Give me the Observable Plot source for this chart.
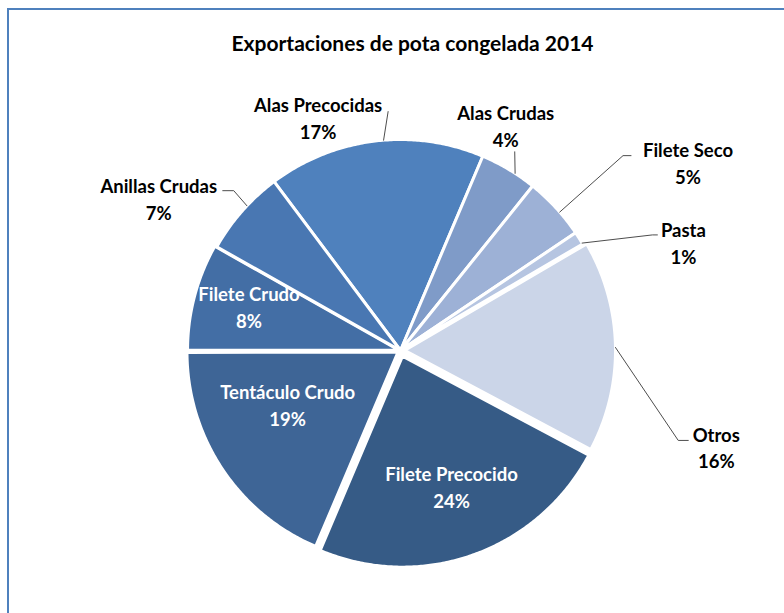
<!DOCTYPE html>
<html><head><meta charset="utf-8">
<script src="https://cdn.jsdelivr.net/npm/d3@7"></script>
<script src="https://cdn.jsdelivr.net/npm/@observablehq/plot@0.6"></script>
<style>
body{margin:0;background:#fff;overflow:hidden;}
#frame{position:absolute;left:7px;top:8px;width:900px;height:800px;border-left:2px solid #4F81BD;border-top:2px solid #4F81BD;}
#chart{position:absolute;left:0;top:0;}
</style></head><body><div id="frame"></div><div id="chart"></div>
<script>
// ---- data ----
const title = "Exportaciones de pota congelada 2014";
const categories = ["Alas Precocidas","Alas Crudas","Filete Seco","Pasta","Otros","Filete Precocido","Tentáculo Crudo","Filete Crudo","Anillas Crudas"];
const values = [16.6, 4.4, 4.8, 1.0, 16.2, 23.6, 18.6, 8.2, 6.6];
const colors = ["#4F81BD","#7F9BC8","#9DB1D6","#B6C5E1","#CBD5E8","#365B86","#3E6596","#436EA5","#4977B2"];

// ---- layout ----
const W = 784, H = 613, CX = 400, CY = 350, R = 211, START = -36.8;
const explode = [0, 0, 0, 0, 4, 6, 3, 2, 0];
const labelAngle = [-19.4, 25, 56.7, 69, 106.9, 159.4, 244.5, -73.5, -57.7];
const labelDist = [248, 249, 344, 303, 330, 145, 125, 158, 286];
const inside = [false,false,false,false,false,true,true,true,false];
// leaders: arc angle, end offset, elbow offset (pixels from label centre, y down)
const leaders = [
  {i:0, arc:-4.6, end:[70,-5], elbow:null},
  {i:1, arc:32.9, end:[9,27], elbow:null},
  {i:2, arc:49, end:[-57,-6], elbow:[-65,-6]},
  {i:3, arc:59.4, end:[-26,-7], elbow:[-31,-7]},
  {i:4, arc:89.2, end:[-28,-6], elbow:[-38,-6]},
  {i:8, arc:-46.7, end:[64,-7], elbow:[75,-7]}
];

const rad = d => d * Math.PI / 180;
const total = d3.sum(values);
let cum = 0;
const slices = values.map((v, i) => {
  const a0 = START + 360 * cum / total;
  cum += v;
  const a1 = START + 360 * cum / total;
  return {cat: categories[i], v, a0, a1, mid: (a0 + a1) / 2, e: explode[i]};
});

const polyPts = [];
for (const s of slices) {
  const ox = s.e * Math.sin(rad(s.mid)), oy = s.e * Math.cos(rad(s.mid));
  polyPts.push({cat: s.cat, x: ox, y: oy});
  const n = Math.max(2, Math.ceil((s.a1 - s.a0) / 0.5));
  for (let k = 0; k <= n; k++) {
    const a = rad(s.a0 + (s.a1 - s.a0) * k / n);
    polyPts.push({cat: s.cat, x: ox + R * Math.sin(a), y: oy + R * Math.cos(a)});
  }
}

const labels = slices.map((s, i) => ({
  cat: s.cat,
  text: s.cat + "\n" + Math.round(s.v) + "%",
  x: labelDist[i] * Math.sin(rad(labelAngle[i])),
  y: labelDist[i] * Math.cos(rad(labelAngle[i])),
  inside: inside[i]
}));

const leaderPts = [];
for (const l of leaders) {
  const lab = labels[l.i], s = slices[l.i];
  const ox = s.e * Math.sin(rad(s.mid)), oy = s.e * Math.cos(rad(s.mid));
  leaderPts.push({cat: lab.cat, x: lab.x + l.end[0], y: lab.y - l.end[1]});
  if (l.elbow) leaderPts.push({cat: lab.cat, x: lab.x + l.elbow[0], y: lab.y - l.elbow[1]});
  leaderPts.push({cat: lab.cat, x: ox + R * Math.sin(rad(l.arc)), y: oy + R * Math.cos(rad(l.arc))});
}

const font = "Lato, 'Open Sans', sans-serif";
const chart = Plot.plot({
  width: W, height: H,
  margin: 0,
  style: {background: "transparent", fontFamily: font},
  x: {domain: [-CX, W - CX], range: [0, W], axis: null},
  y: {domain: [CY - H, CY], range: [H, 0], axis: null},
  color: {domain: categories, range: colors},
  marks: [
    Plot.line(polyPts, {x: "x", y: "y", z: "cat", fill: "cat", stroke: "white", strokeWidth: 3, strokeLinejoin: "round", curve: "linear-closed"}),
    Plot.line(leaderPts, {x: "x", y: "y", z: "cat", stroke: "#4d4d4d", strokeWidth: 1}),
    Plot.text(labels, {x: "x", y: "y", text: "text", fill: d => d.inside ? "white" : "black", fontWeight: "bold", fontSize: 18.5, lineHeight: 1.45, fontFamily: font}),
    Plot.text([title], {x: () => 12, y: () => CY - 44, text: d => d, fontWeight: "bold", fontSize: 21, fill: "black", fontFamily: font})
  ]
});
document.getElementById("chart").appendChild(chart);
</script>
</body></html>
